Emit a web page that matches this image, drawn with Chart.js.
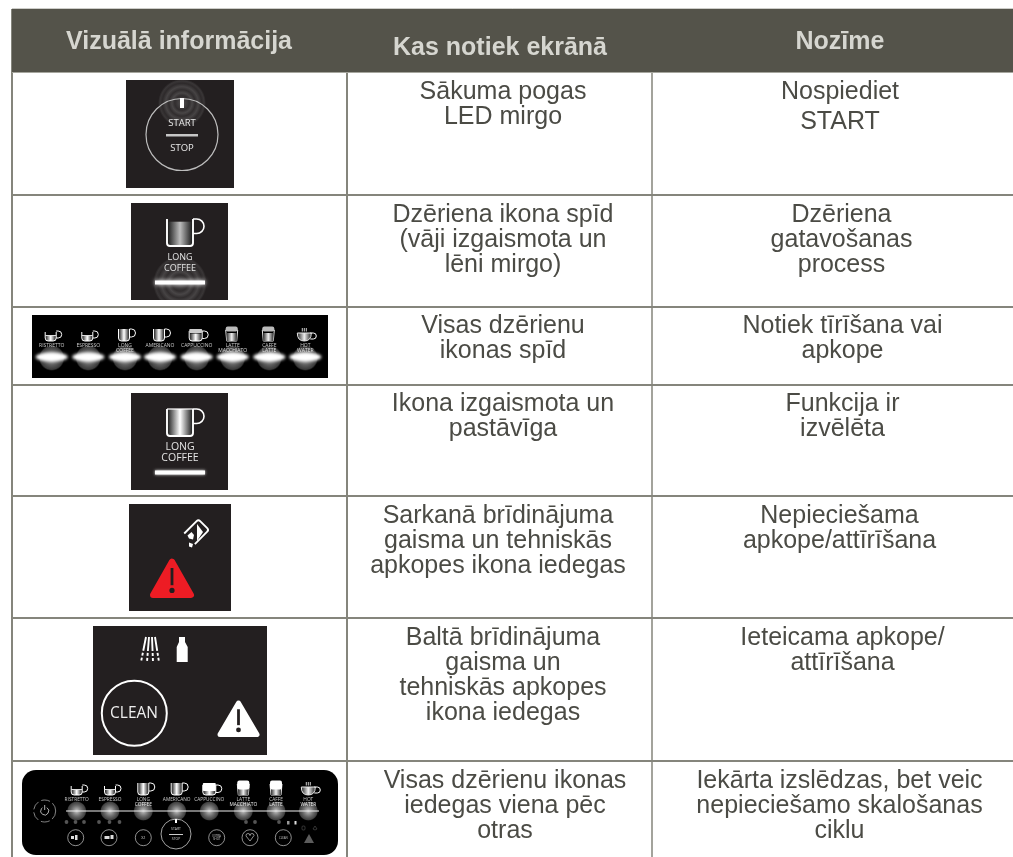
<!DOCTYPE html>
<html><head><meta charset="utf-8">
<script src="https://cdn.jsdelivr.net/npm/chart.js@4"></script>
<style>html,body{margin:0;padding:0;background:#fff;overflow:hidden}canvas{display:block}</style>
</head><body><canvas id="c" width="1013" height="857"></canvas>
<script>
const headers = ["Vizuālā informācija", "Kas notiek ekrānā", "Nozīme"];
const happening = [
  ["Sākuma pogas", "LED mirgo"],
  ["Dzēriena ikona spīd", "(vāji izgaismota un", "lēni mirgo)"],
  ["Visas dzērienu", "ikonas spīd"],
  ["Ikona izgaismota un", "pastāvīga"],
  ["Sarkanā brīdinājuma", "gaisma un tehniskās", "apkopes ikona iedegas"],
  ["Baltā brīdinājuma", "gaisma un", "tehniskās apkopes", "ikona iedegas"],
  ["Visas dzērienu ikonas", "iedegas viena pēc", "otras"]
];
const meaning = [
  ["Nospiediet", "START"],
  ["Dzēriena", "gatavošanas", "process"],
  ["Notiek tīrīšana vai", "apkope"],
  ["Funkcija ir", "izvēlēta"],
  ["Nepieciešama", "apkope/attīrīšana"],
  ["Ieteicama apkope/", "attīrīšana"],
  ["Iekārta izslēdzas, bet veic", "nepieciešamo skalošanas", "ciklu"]
];
const drinks = ["RISTRETTO","ESPRESSO","LONG|COFFEE","AMERICANO","CAPPUCCINO","LATTE|MACCHIATO","CAFFE|LATTE","HOT|WATER"];
const cupKinds = ["short","short","long","long","capp","latte","latte","water"];

const rowEdges = [72,195,307,385,496,618,761];
const colEdges = [12,347,652,1013];
const firstLine = [20,20,19,19,20,20,20];
const col2Center = [503,503,503,503,498,503,505];
const col3Center = [840,841.5,842.5,842.5,839.5,842.5,839.5];
const headerTop = 9, pageBottom = 857;
const ruleColor = "#85857c", headColor = "#54534a", textColor = "#4b4b45", headText = "#d6d6d0", panel = "#231f20";
const sans = '"Liberation Sans", Arial, sans-serif', iconFont = '"Open Sans", sans-serif';

function rule(x0,y0,x1,y1,color,w){return {type:"line",data:[{x:x0,y:y0},{x:x1,y:y1}],borderColor:color,borderWidth:w,pointRadius:0,fill:false,tension:0};}
const datasets = [];
datasets.push({type:"line",data:[{x:colEdges[0],y:rowEdges[0]},{x:colEdges[3],y:rowEdges[0]}],fill:{value:headerTop},backgroundColor:headColor,borderWidth:0,pointRadius:0});
rowEdges.slice(1).forEach(y=>datasets.push(rule(colEdges[0],y,colEdges[3],y,ruleColor,2)));
datasets.push(rule(colEdges[0],headerTop,colEdges[3],headerTop,"#9a9a92",1));
datasets.push(rule(colEdges[0],rowEdges[0],colEdges[3],rowEdges[0],"#a6a69e",2));
datasets.push(rule(colEdges[0],headerTop,colEdges[0],pageBottom,ruleColor,2));
datasets.push(rule(colEdges[1],headerTop,colEdges[1],pageBottom,ruleColor,2));
datasets.push(rule(colEdges[2],headerTop,colEdges[2],pageBottom,ruleColor,1.5));

function ringGlow(c,x,y,r){const g=c.createRadialGradient(x,y,0,x,y,r);[[0,.35],[.3,.1],[.42,.28],[.55,.1],[.68,.26],[.82,.08],[.92,.16],[1,0]].forEach(s=>g.addColorStop(s[0],`rgba(170,170,170,${s[1]})`));c.fillStyle=g;c.beginPath();c.arc(x,y,r,0,7);c.fill();}
function disc(c,x,y,r,a){const g=c.createRadialGradient(x,y,0,x,y,r);g.addColorStop(0,`rgba(210,210,210,${a})`);g.addColorStop(.55,`rgba(130,130,130,${a*.85})`);g.addColorStop(.88,`rgba(105,105,105,${a*.65})`);g.addColorStop(1,"rgba(70,70,70,0)");c.fillStyle=g;c.beginPath();c.arc(x,y,r,0,7);c.fill();}
function txt(c,s,x,y,size,color,font,weight){c.font=`${weight||""} ${size}px ${font||iconFont}`;c.fillStyle=color||"#fff";c.textAlign="center";c.textBaseline="middle";c.fillText(s,x,y);}
function rrect(c,x,y,w,h,r){c.beginPath();c.roundRect(x,y,w,h,r);}
function cupBody(c,x,y,w,h,lw,fillTop,peak){
  const g=c.createLinearGradient(x,0,x+w,0);
  g.addColorStop(0,"#111");g.addColorStop(.5,peak);g.addColorStop(1,"#111");
  c.fillStyle=g;c.fillRect(x,y+h*fillTop,w,h*(1-fillTop));
  c.strokeStyle="#fff";c.lineWidth=lw;c.beginPath();c.moveTo(x,y);c.lineTo(x,y+h-3);c.quadraticCurveTo(x,y+h,x+3,y+h);c.lineTo(x+w-3,y+h);c.quadraticCurveTo(x+w,y+h,x+w,y+h-3);c.lineTo(x+w,y);c.stroke();
}
function handle(c,x,y,w,h,lw){c.strokeStyle="#fff";c.lineWidth=lw;c.beginPath();c.moveTo(x,y);c.lineTo(x+w-h/2,y);c.arc(x+w-h/2,y+h/2,h/2,-Math.PI/2,Math.PI/2);c.lineTo(x,y+h);c.stroke();}
function bigCup(c,cx,top,bright){cupBody(c,cx-13,top,26,27,1.9,bright?0:.1,bright?"#fff":"#bdbdbd");handle(c,cx+13,top,11,14.5,1.6);if(bright){c.strokeStyle="#fff";c.lineWidth=1.2;c.beginPath();c.moveTo(cx-13,top);c.lineTo(cx+13,top);c.stroke();}}
function miniCup(c,kind,cx,bottom,s,lit){
  const st="#e6e6e6",lw=1;
  if(kind==="short"){cupBody(c,cx-5.5*s,bottom-9*s,11*s,9*s,lw,.4,"#fff");handle(c,cx+5.5*s,bottom-10*s,5.5*s,7*s,lw);c.fillStyle="#ddd";c.fillRect(cx-5.5*s,bottom-6*s,11*s,1);}
  if(kind==="long"){cupBody(c,cx-5.5*s,bottom-12*s,11*s,12*s,lw,0,"#fff");handle(c,cx+5.5*s,bottom-12*s,6*s,8*s,lw);}
  if(kind==="capp"){cupBody(c,cx-6.5*s,bottom-10*s,13*s,10*s,lw,.25,"#fff");c.fillStyle=lit?"#fff":"#ccc";rrect(c,cx-6.5*s,bottom-12*s,13*s,lit?8*s:4*s,1);c.fill();handle(c,cx+6.5*s,bottom-10*s,6*s,7.5*s,lw);}
  if(kind==="latte"){c.strokeStyle=st;c.lineWidth=lw;c.beginPath();c.moveTo(cx-6*s,bottom-11*s);c.lineTo(cx+6*s,bottom-11*s);c.lineTo(cx+5*s,bottom);c.lineTo(cx-5*s,bottom);c.closePath();c.stroke();
    const g=c.createLinearGradient(cx-5*s,0,cx+5*s,0);g.addColorStop(0,"#333");g.addColorStop(.5,"#eee");g.addColorStop(1,"#333");c.fillStyle=g;c.fillRect(cx-5*s,bottom-8*s,10*s,8*s);c.fillStyle=lit?"#fff":"#bbb";rrect(c,cx-6*s,bottom-14.5*s,12*s,lit?9*s:5*s,2);c.fill();}
  if(kind==="water"){const g=c.createLinearGradient(cx-7*s,0,cx+7*s,0);g.addColorStop(0,"#222");g.addColorStop(.5,"#eee");g.addColorStop(1,"#222");c.fillStyle=g;c.strokeStyle=st;c.lineWidth=lw;c.beginPath();c.moveTo(cx-7*s,bottom-8*s);c.lineTo(cx+7*s,bottom-8*s);c.quadraticCurveTo(cx+7*s,bottom,cx,bottom);c.quadraticCurveTo(cx-7*s,bottom,cx-7*s,bottom-8*s);c.fill();c.stroke();handle(c,cx+6*s,bottom-8*s,6*s,6*s,lw);
    c.lineWidth=.8;c.beginPath();[-2,0,2].forEach(d=>{c.moveTo(cx+d*s,bottom-13*s);c.lineTo(cx+d*s,bottom-9.5*s);});c.stroke();}
}
function startIcon(c){
  c.fillStyle=panel;c.fillRect(126,80,108,108);
  c.save();c.beginPath();c.rect(126,80,108,108);c.clip();ringGlow(c,182,103,24);c.restore();
  c.strokeStyle="#bdbdbd";c.lineWidth=1.2;c.beginPath();c.arc(182,134.5,36,0,7);c.stroke();
  c.fillStyle="#fff";c.fillRect(180,98,4,10);
  txt(c,"START",182,123,9.5,"#e8e8e8");txt(c,"STOP",182,148,9.5,"#e8e8e8");
  c.fillStyle="#c6c6c6";c.fillRect(166,134,32,2.5);
}
function longCoffee(c,dy,pulse){
  c.fillStyle=panel;c.fillRect(131,203+dy,97,97);
  c.save();c.beginPath();c.rect(131,203+dy,97,97);c.clip();
  if(pulse)ringGlow(c,180,283,27);
  bigCup(c,180,219+dy,!pulse);
  txt(c,"LONG",180,257+dy,pulse?9:10.5,"#e4e4e4");txt(c,"COFFEE",180,268+dy,pulse?9:10.5,"#e4e4e4");
  c.shadowColor="#fff";c.shadowBlur=pulse?4:3;c.fillStyle="#fff";c.fillRect(155,280.5+dy,50,4);c.restore();
}
function allLit(c){
  c.fillStyle="#000";c.fillRect(32,315,296,63);
  const xs=[51.7,88.3,125,160,196.7,232.7,269.3,305.3];
  xs.forEach((x,i)=>{
    disc(c,x,358,13,.85);
    c.save();c.filter="blur(.4px)";miniCup(c,cupKinds[i],x-1,341,1);
    const parts=drinks[i].split("|");
    txt(c,parts[0],x,345.5,5,"#ccc");if(parts[1])txt(c,parts[1],x,350.5,5,"#ddd");c.restore();
    c.save();c.filter="blur(1.5px)";c.fillStyle="#fff";c.beginPath();c.ellipse(x,357,16,4.5,0,0,7);c.fill();c.restore();
  });
}
function warnTri(c,cx,top,base,h,fill,ink,join,bar,dot){
  c.fillStyle=fill;c.strokeStyle=fill;c.lineJoin="round";c.lineWidth=join;const j=join/2;c.beginPath();c.moveTo(cx,top+j*1.2);c.lineTo(cx+base/2-j,top+h-j);c.lineTo(cx-base/2+j,top+h-j);c.closePath();c.fill();c.stroke();
  c.strokeStyle=ink;c.lineWidth=bar;c.lineCap="butt";c.beginPath();c.moveTo(cx,top+h*.25);c.lineTo(cx,top+h*.68);c.stroke();c.fillStyle=ink;c.beginPath();c.arc(cx,top+h*.81,dot,0,7);c.fill();
}
function maintIcon(c){
  c.fillStyle=panel;c.fillRect(129,504,102,107);
  c.save();c.translate(196.6,531.7);c.rotate(Math.PI/4);
  c.strokeStyle="#fff";c.lineWidth=1.9;c.beginPath();c.moveTo(-7.5,10);c.arcTo(-7.5,-10,7.5,-10,2.5);c.arcTo(7.5,-10,7.5,10,2.5);c.lineTo(7.5,10);c.stroke();c.restore();
  c.fillStyle="#fff";
  c.beginPath();c.moveTo(197,524);c.lineTo(203,532);c.lineTo(197,541);c.closePath();c.fill();
  c.beginPath();c.moveTo(187.5,535.5);c.lineTo(191.5,532);c.lineTo(194,535);c.lineTo(193,539.5);c.lineTo(189,538.5);c.closePath();c.fill();
  c.beginPath();c.moveTo(189,542.5);c.lineTo(193,544);c.lineTo(192,547.5);c.lineTo(189,546.5);c.closePath();c.fill();
  warnTri(c,172,558,44,40,"#ed1c24",panel,6,2.8,2.6);
}
function cleanIcon(c){
  c.fillStyle=panel;c.fillRect(93,626,174,129);
  c.strokeStyle="#fff";c.lineWidth=1.9;c.setLineDash([14,2,3,2,3]);c.lineCap="butt";
  [[146,637,141,662],[149,637,147,662],[152,637,153,662],[155,637,159,662]].forEach(l=>{c.beginPath();c.moveTo(l[0],l[1]);c.lineTo(l[2],l[3]);c.stroke();});
  c.setLineDash([]);
  c.fillStyle="#fff";c.beginPath();c.moveTo(179,637);c.lineTo(185,637);c.lineTo(185,642);c.lineTo(187.7,647);c.lineTo(187.7,662);c.lineTo(176.7,662);c.lineTo(176.7,647);c.lineTo(179,642);c.closePath();c.fill();
  c.strokeStyle="#fff";c.lineWidth=2;c.beginPath();c.arc(134.3,713.3,32.5,0,7);c.stroke();
  txt(c,"CLEAN",134,713.5,15.5,"#eee");
  warnTri(c,238.5,700,42,37,"#fff",panel,5,2.8,2.4);
}
function panelIcon(c){
  c.fillStyle="#000";rrect(c,22,770,316,85,14);c.fill();
  const xs=[76.7,110,143.3,176.7,209.3,243.3,276,308.3];
  xs.forEach((x,i)=>{
    disc(c,x,811,10,.95);
    c.save();c.filter="blur(.3px)";miniCup(c,cupKinds[i],x,795,1,i>=4&&i<7);
    const parts=drinks[i].split("|");txt(c,parts[0],x,800,4.8,"#ccc");if(parts[1])txt(c,parts[1],x,805,4.8,"#eee");c.restore();
  });
  c.strokeStyle="#eee";c.lineWidth=1.1;c.beginPath();c.moveTo(66,811);c.lineTo(319,811);c.stroke();
  c.strokeStyle="#bbb";c.lineWidth=.7;c.setLineDash([9,3]);c.beginPath();c.arc(44.7,811,11,0,7);c.stroke();c.setLineDash([]);
  c.strokeStyle="#ddd";c.lineWidth=.8;c.beginPath();c.arc(44.7,811,4,-1,4.1);c.moveTo(44.7,805);c.lineTo(44.7,810);c.stroke();
  c.fillStyle="#555";[66.5,75.5,84,99,109.5,119.5,246,255,279].forEach(x=>{c.beginPath();c.arc(x,822,1.9,0,7);c.fill();});
  [75.7,109,143.3,216.7,250,283.3].forEach(x=>{c.strokeStyle="#ccc";c.lineWidth=.7;c.beginPath();c.arc(x,837.7,8,0,7);c.stroke();});
  txt(c,"X2",143.3,837.7,3.6,"#ccc");txt(c,"EXTRA",216.7,836,2.8,"#ccc");txt(c,"SHOT",216.7,839.5,2.8,"#ccc");txt(c,"CLEAN",283.3,837.7,2.8,"#ccc");
  c.strokeStyle="#ccc";c.lineWidth=.8;c.beginPath();c.arc(176,834,15,0,7);c.stroke();
  c.fillStyle="#fff";c.fillRect(175,819,2,4);c.fillRect(169,834,14,.8);
  txt(c,"START",176,829.5,3.4,"#ccc");txt(c,"STOP",176,839.5,3.4,"#ccc");
  c.strokeStyle="#ccc";c.lineWidth=.7;c.beginPath();c.moveTo(250,841);c.lineTo(246,836);c.arc(248,835.5,2,3.1,0);c.arc(252,835.5,2,3.1,0);c.closePath();c.stroke();
  c.fillStyle="#ddd";c.fillRect(71,836,3,3);c.fillRect(75,835,2.5,5);c.fillRect(104.5,836,5,3);c.fillRect(110.5,835,3,4);
  c.fillRect(294.5,821,2,3.5);c.fillStyle="#999";c.fillRect(287,821,2.5,3.5);
  c.fillStyle="#5c5c5c";c.beginPath();c.moveTo(309,834);c.lineTo(314,843);c.lineTo(304,843);c.closePath();c.fill();
  c.strokeStyle="#555";c.lineWidth=.6;rrect(c,302,826,3,4,1);c.stroke();c.beginPath();c.moveTo(315,826);c.lineTo(317,829);c.lineTo(315,830);c.lineTo(313,829);c.closePath();c.stroke();
}

const tablePlugin = {id:"table",afterDatasetsDraw(chart){
  const c=chart.ctx,x=chart.scales.x,y=chart.scales.y;
  c.save();
  const heads=[[179,42],[500,48],[840,42]];
  headers.forEach((h,i)=>{txt(c,h,x.getPixelForValue(heads[i][0]),y.getPixelForValue(heads[i][1]),25,headText,sans,"bold");});
  const lh=25;
  rowEdges.forEach((e,r)=>{
    happening[r].forEach((s,i)=>txt(c,s,x.getPixelForValue(col2Center[r]),y.getPixelForValue(e+firstLine[r]+i*lh),25,textColor,sans));
    meaning[r].forEach((s,i)=>txt(c,s,x.getPixelForValue(col3Center[r]),y.getPixelForValue(e+firstLine[r]+i*(r===0?30:lh)),25,textColor,sans));
  });
  startIcon(c);longCoffee(c,0,true);allLit(c);longCoffee(c,190,false);maintIcon(c);cleanIcon(c);panelIcon(c);
  c.restore();
}};

new Chart(document.getElementById("c"),{
  type:"scatter",
  data:{datasets},
  options:{responsive:false,animation:false,layout:{padding:0},
    plugins:{legend:{display:false},tooltip:{enabled:false},title:{display:false}},
    scales:{x:{type:"linear",display:false,min:0,max:1013},y:{type:"linear",display:false,min:0,max:857,reverse:true}}},
  plugins:[tablePlugin]
});
</script></body></html>
